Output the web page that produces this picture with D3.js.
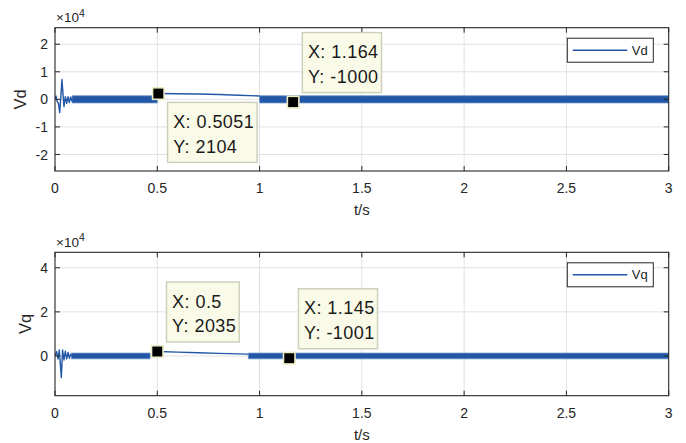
<!DOCTYPE html>
<html>
<head>
<meta charset="utf-8">
<script src="https://cdn.jsdelivr.net/npm/d3@7"></script>
<style>
  html, body { margin: 0; padding: 0; background: #fff; }
  svg { display: block; font-family: "Liberation Sans", Arial, Helvetica, sans-serif; }
</style>
</head>
<body>
<svg id="chart" width="686" height="443"></svg>
<script>
// Time axis (seconds)
const timeDomain = [0, 3];
const timeTicks = [0, 0.5, 1, 1.5, 2, 2.5, 3];
const timeTickLabels = ["0", "0.5", "1", "1.5", "2", "2.5", "3"];

// Vd: start-up ripple, ripple bands (t0, t1, low, high), free-running segment, data tips
const vdDomain = [-26000, 26000];
const vdTicks = [-20000, -10000, 0, 10000, 20000];
const vdTickLabels = ["-2", "-1", "0", "1", "2"];
const vdTransient = [
  [0, 0], [0.005, 1200], [0.011, -840], [0.017, -1500], [0.023, -4800],
  [0.029, 1500], [0.034, 7200], [0.040, 1000], [0.044, -2650], [0.0505, 1000],
  [0.057, -1500], [0.0636, 1000], [0.070, -1200], [0.0766, 800], [0.083, -600]
];
const vdBands = [
  [0.083, 0.5, -1300, 1300],
  [1.0, 3.0, -1300, 1300]
];
const vdFree = [
  [0.5051, 2104], [0.6, 2050], [0.7, 1950], [0.8, 1750], [0.9, 1500], [1.0, 1200]
];
const vdTips = [[0.5051, 2104], [1.164, -1000]];

// Vq
const vqDomain = [-18000, 47000];
const vqTicks = [0, 20000, 40000];
const vqTickLabels = ["0", "2", "4"];
const vqTransient = [
  [0, 0], [0.008, 2000], [0.0147, -1350], [0.021, 2700], [0.031, -9800],
  [0.037, 2700], [0.044, -1800], [0.0505, 2200], [0.057, -1350], [0.064, 1650],
  [0.070, -1000], [0.0766, 750], [0.080, 0]
];
const vqBands = [
  [0.080, 0.465, -1300, 1300],
  [0.945, 3.0, -1300, 1300]
];
const vqFree = [
  [0.5, 2035], [0.6, 1750], [0.7, 1450], [0.8, 1200], [0.9, 950], [0.945, 850]
];
const vqTips = [[0.5, 2035], [1.145, -1001]];

const svg = d3.select("#chart");
const lineColor = "#2157a6";
const axisColor = "#262626";
const gridColor = "#e1e1e1";

const panels = [
  {
    id: "vd", name: "Vd", top: 27.7, bottom: 171, yLabelX: 20,
    domain: vdDomain, ticks: vdTicks, tickLabels: vdTickLabels,
    transient: vdTransient, bands: vdBands, free: vdFree, tips: vdTips,
    tipSides: ["below", "above"]
  },
  {
    id: "vq", name: "Vq", top: 252.3, bottom: 395.7, yLabelX: 25.5,
    domain: vqDomain, ticks: vqTicks, tickLabels: vqTickLabels,
    transient: vqTransient, bands: vqBands, free: vqFree, tips: vqTips,
    tipSides: ["above", "above"]
  }
];

const left = 55, right = 668.7;
const x = d3.scaleLinear().domain(timeDomain).range([left, right]);

panels.forEach(p => {
  const y = d3.scaleLinear().domain(p.domain).range([p.bottom, p.top]);
  const g = svg.append("g");

  // grid
  g.append("g").selectAll("line").data(timeTicks.slice(1, -1)).join("line")
    .attr("x1", d => x(d)).attr("x2", d => x(d))
    .attr("y1", p.top).attr("y2", p.bottom)
    .attr("stroke", gridColor).attr("stroke-width", 1);
  g.append("g").selectAll("line").data(p.ticks).join("line")
    .attr("x1", left).attr("x2", right)
    .attr("y1", d => y(d)).attr("y2", d => y(d))
    .attr("stroke", gridColor).attr("stroke-width", 1);

  // clip
  svg.append("clipPath").attr("id", "clip-" + p.id)
    .append("rect").attr("x", left).attr("y", p.top)
    .attr("width", right - left).attr("height", p.bottom - p.top);
  const plot = g.append("g").attr("clip-path", `url(#clip-${p.id})`);

  // ripple bands
  const area = d3.area().x(d => x(d[0])).y0(d => y(d[1])).y1(d => y(d[2]));
  p.bands.forEach(b => {
    plot.append("path")
      .datum([[b[0], b[2], b[3]], [b[1], b[2], b[3]]])
      .attr("d", area)
      .attr("fill", lineColor)
      .attr("stroke", "#6b90c6").attr("stroke-width", 0.8);
  });

  const line = d3.line().x(d => x(d[0])).y(d => y(d[1]));
  [p.transient, p.free].forEach(seg => {
    plot.append("path").datum(seg).attr("d", line)
      .attr("fill", "none").attr("stroke", lineColor)
      .attr("stroke-width", 1.4).attr("stroke-linejoin", "round");
  });

  // axes box and inward ticks
  g.append("rect").attr("x", left).attr("y", p.top)
    .attr("width", right - left).attr("height", p.bottom - p.top)
    .attr("fill", "none").attr("stroke", axisColor).attr("stroke-width", 1.1);
  const tl = 5;
  timeTicks.forEach(t => {
    g.append("line").attr("x1", x(t)).attr("x2", x(t)).attr("y1", p.bottom).attr("y2", p.bottom - tl)
      .attr("stroke", axisColor);
    g.append("line").attr("x1", x(t)).attr("x2", x(t)).attr("y1", p.top).attr("y2", p.top + tl)
      .attr("stroke", axisColor);
  });
  p.ticks.forEach(v => {
    g.append("line").attr("x1", left).attr("x2", left + tl).attr("y1", y(v)).attr("y2", y(v))
      .attr("stroke", axisColor);
    g.append("line").attr("x1", right).attr("x2", right - tl).attr("y1", y(v)).attr("y2", y(v))
      .attr("stroke", axisColor);
  });

  // tick labels
  g.append("g").selectAll("text").data(timeTicks).join("text")
    .attr("x", d => x(d)).attr("y", p.bottom + 22)
    .attr("text-anchor", "middle").attr("font-size", 14).attr("fill", axisColor)
    .text((d, i) => timeTickLabels[i]);
  g.append("g").selectAll("text").data(p.ticks).join("text")
    .attr("x", left - 7).attr("y", d => y(d)).attr("dy", "0.36em")
    .attr("text-anchor", "end").attr("font-size", 14).attr("fill", axisColor)
    .text((d, i) => p.tickLabels[i]);

  // exponent label
  const ex = g.append("text").attr("x", left + 1).attr("y", p.top - 5.5)
    .attr("font-size", 13.5).attr("fill", axisColor);
  ex.append("tspan").text("×10");
  ex.append("tspan").attr("font-size", 10.5).attr("dy", -5.5).text("4");

  // axis labels
  g.append("text").attr("x", (left + right) / 2).attr("y", p.bottom + 44)
    .attr("text-anchor", "middle").attr("font-size", 15).attr("fill", axisColor)
    .text("t/s");
  g.append("text")
    .attr("transform", `translate(${p.yLabelX},${(p.top + p.bottom) / 2}) rotate(-90)`)
    .attr("dy", "0.35em").attr("text-anchor", "middle")
    .attr("font-size", 16.5).attr("fill", axisColor).text(p.name);

  // legend
  const lw = 86, lh = 24;
  const lx = right - 15.4 - lw, ly = p.top + 10.5;
  g.append("rect").attr("x", lx).attr("y", ly).attr("width", lw).attr("height", lh)
    .attr("fill", "#fff").attr("stroke", axisColor).attr("stroke-width", 1);
  g.append("line").attr("x1", lx + 5.5).attr("x2", lx + 60).attr("y1", ly + lh / 2).attr("y2", ly + lh / 2)
    .attr("stroke", lineColor).attr("stroke-width", 1.5);
  g.append("text").attr("x", lx + 64.5).attr("y", ly + lh / 2).attr("dy", "0.36em")
    .attr("font-size", 13).attr("fill", axisColor).text(p.name);

  // data tips
  p.tips.forEach((tip, i) => {
    const mx = x(tip[0]), my = y(tip[1]);
    const tg = svg.append("g");
    const ms = 11.5;
    tg.append("rect").attr("x", mx - ms / 2).attr("y", my - ms / 2)
      .attr("width", ms).attr("height", ms)
      .attr("fill", "#000").attr("stroke", "#ecebc4").attr("stroke-width", 1.6);
    const bx = mx + 9.2;
    const bh = 60;
    const by = p.tipSides[i] === "below" ? my + 8.8 : my - 9.5 - bh;
    const box = tg.append("rect").attr("x", bx).attr("y", by).attr("height", bh)
      .attr("fill", "#fafae8").attr("stroke", "#cfcfbe").attr("stroke-width", 1.5);
    const t1 = tg.append("text").attr("x", bx + 5.6).attr("y", by + 25.8)
      .attr("font-size", 18).attr("letter-spacing", 0.45).attr("fill", "#1a1a1a").text(`X: ${tip[0]}`);
    const t2 = tg.append("text").attr("x", bx + 5.6).attr("y", by + 50.3)
      .attr("font-size", 18).attr("letter-spacing", 0.45).attr("fill", "#1a1a1a").text(`Y: ${tip[1]}`);
    const w = Math.max(t1.node().getComputedTextLength(), t2.node().getComputedTextLength());
    box.attr("width", w + 8.5);
  });
});
</script>
</body>
</html>
